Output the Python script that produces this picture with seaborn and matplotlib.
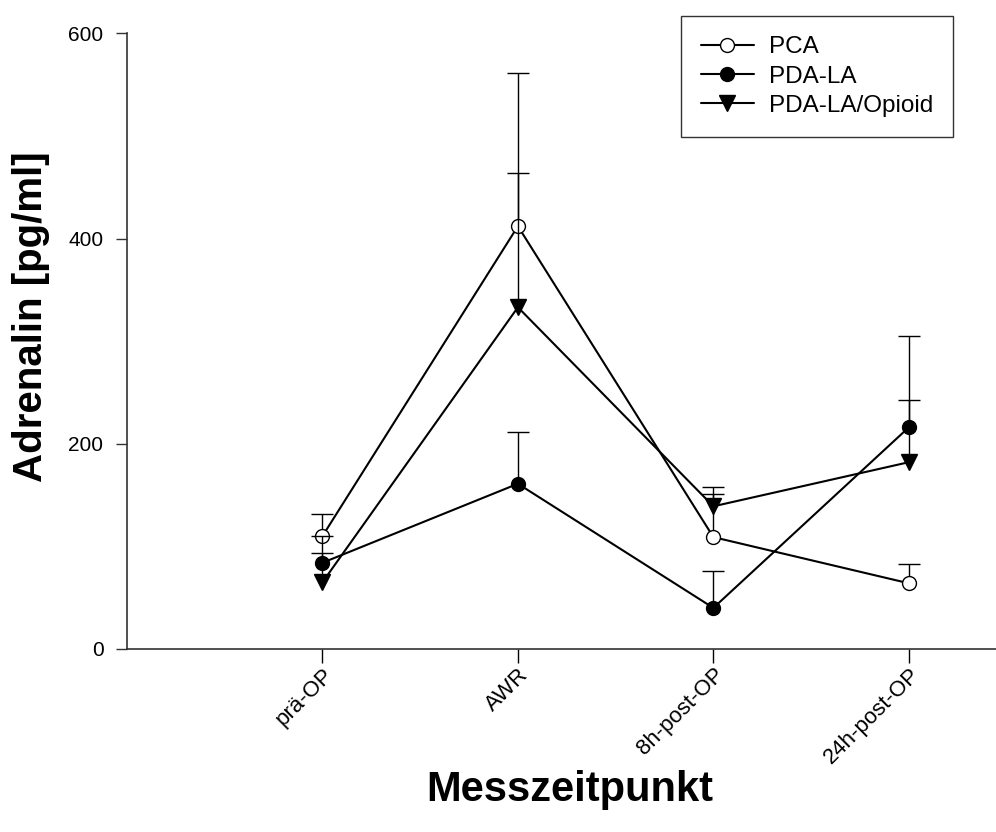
import numpy as np
import pandas as pd
import matplotlib
matplotlib.use("Agg")
import matplotlib.pyplot as plt
import seaborn as sns
from matplotlib.lines import Line2D

sns.set_style("ticks")
plt.rcParams["font.family"] = ["Liberation Sans", "DejaVu Sans"]
plt.rcParams["text.color"] = "black"
plt.rcParams["axes.labelcolor"] = "black"
plt.rcParams["xtick.color"] = "black"
plt.rcParams["ytick.color"] = "black"

# Messzeitpunkte
timepoints = ["prä-OP", "AWR", "8h-post-OP", "24h-post-OP"]

# Mittelwerte (pg/ml)
pca_mean = [110, 412, 109, 64]
pda_la_mean = [84, 161, 40, 216]
pda_opioid_mean = [65, 333, 139, 182]

# nur obere Fehlerbalken
pca_err = [22, 149, 49, 19]
pda_la_err = [26, 50, 36, 89]
pda_opioid_err = [29, 131, 12, 61]

groups = ["PCA", "PDA-LA", "PDA-LA/Opioid"]
means = [pca_mean, pda_la_mean, pda_opioid_mean]
errs = [pca_err, pda_la_err, pda_opioid_err]

styles = {
    "PCA": dict(marker="o", markersize=10, markerfacecolor="white"),
    "PDA-LA": dict(marker="o", markersize=10, markerfacecolor="black"),
    "PDA-LA/Opioid": dict(marker="v", markersize=12, markerfacecolor="black"),
}

df = pd.DataFrame({
    "Messzeitpunkt": timepoints * 3,
    "pos": list(range(len(timepoints))) * 3,
    "Gruppe": np.repeat(groups, len(timepoints)),
    "Adrenalin": np.concatenate(means),
    "err": np.concatenate(errs),
})

fig = plt.figure(figsize=(9.96, 8.32), dpi=100)
ax = fig.add_axes([0.1275, 0.22, 0.8725, 0.74])

for g in groups:
    sub = df[df["Gruppe"] == g]
    eb = ax.errorbar(sub["pos"], sub["Adrenalin"],
                     yerr=[np.zeros(len(sub)), sub["err"]],
                     fmt="none", ecolor="black", elinewidth=1.0, capsize=8, capthick=1.0)
    # untere Kappen ausblenden (nur obere Fehlerbalken)
    eb[1][0].set_visible(False)
    sns.lineplot(data=sub, x="pos", y="Adrenalin", ax=ax, color="black",
                 linewidth=1.5, markeredgecolor="black", markeredgewidth=1.0,
                 legend=False, **styles[g])

ax.set_xlim(-1.0, 3.446)
ax.set_ylim(0, 600)
ax.set_yticks([0, 200, 400, 600])
ax.set_xticks(range(len(timepoints)))
ax.set_xticklabels(timepoints, rotation=45, ha="right", va="top",
                   rotation_mode="anchor", fontsize=16)
ax.tick_params(axis="y", labelsize=15, length=8, width=1, color="#333333", pad=9)
ax.tick_params(axis="x", length=10, width=1, color="black", pad=1)

sns.despine(ax=ax)
for s in ["left", "bottom"]:
    ax.spines[s].set_linewidth(1.2)
    ax.spines[s].set_color("#333333")

ax.set_xlabel("Messzeitpunkt", fontsize=30, fontweight="bold")
ax.set_ylabel("Adrenalin [pg/ml]", fontsize=29, fontweight="bold")
ax.xaxis.set_label_coords(0.509, -0.196)
ax.yaxis.set_label_coords(-0.089, 0.54)

handles = [Line2D([0], [0], color="black", linewidth=1.5,
                  markeredgecolor="black", markeredgewidth=1.0, **styles[g])
           for g in groups]
leg = ax.legend(handles, groups, loc="upper right", bbox_to_anchor=(0.9505, 1.0276),
                fontsize=17.5, frameon=True, fancybox=False, handlelength=2.2,
                borderpad=0.82, labelspacing=0.3, handletextpad=0.6,
                borderaxespad=0)
leg.get_frame().set_edgecolor("black")
leg.get_frame().set_linewidth(1.0)

fig.savefig("out.png", dpi=100)
